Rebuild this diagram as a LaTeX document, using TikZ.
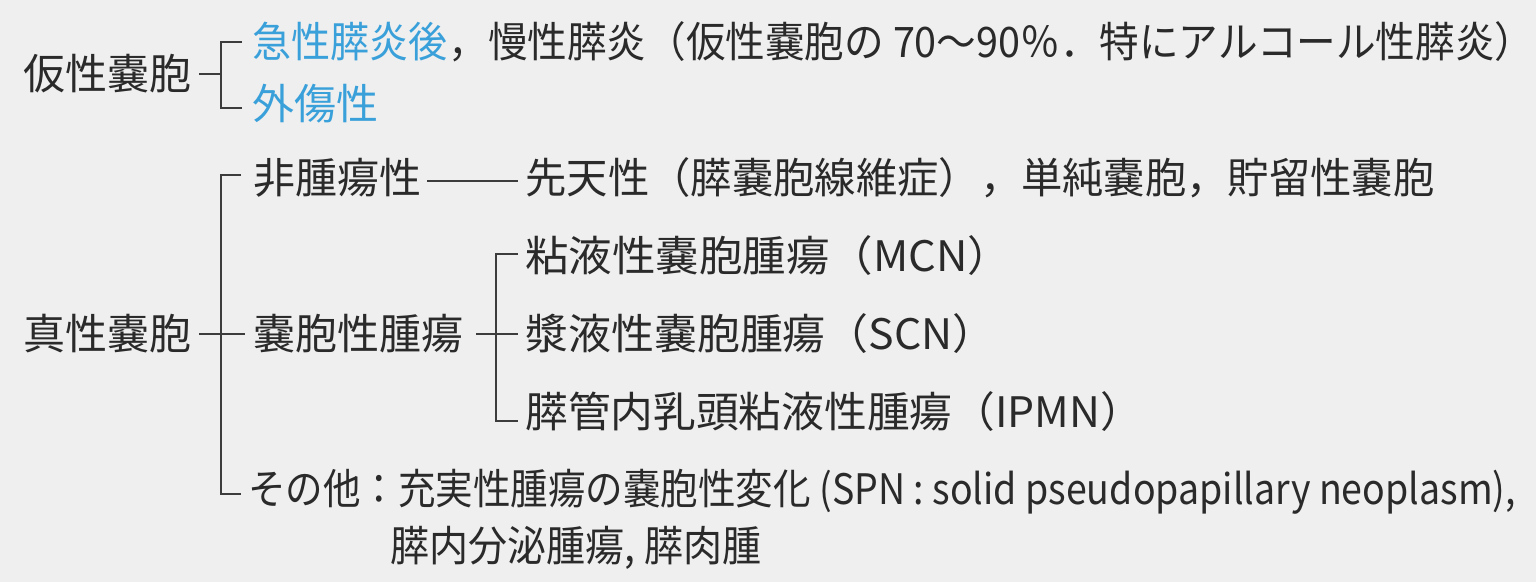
\documentclass[tikz,border=0pt]{standalone}
\usepackage{fontspec}
\usepackage{graphicx}
\setmainfont{Noto Sans CJK JP}
\definecolor{bg}{HTML}{EFEFEF}
\definecolor{ink}{HTML}{2A2A2A}
\definecolor{rule}{HTML}{3C3C3C}
\definecolor{accent}{HTML}{3AA0DA}
\newcommand{\squeeze}[2]{\scalebox{#1}[1]{#2}}
\begin{document}
\begin{tikzpicture}[x=0.5pt,y=-0.5pt,
  txt/.style={anchor=west,inner sep=0pt,text=ink,font=\fontsize{21pt}{25pt}\selectfont},
  hl/.style={text=accent},
  link/.style={draw=rule,line width=0.9pt}]
\fill[bg] (0,0) rectangle (1536,582);
\useasboundingbox (0,0) rectangle (1536,582);
% pseudocyst
\node[txt] (kasei) at (23,74) {仮性嚢胞};
\node[txt,hl] (acute) at (252,42) {\squeeze{0.93}{急性膵炎後}};
\node[txt] (chronic) at (acute.east) {\squeeze{0.943}{，慢性膵炎（仮性嚢胞の 70～90％．特にアルコール性膵炎）}};
\node[txt,hl] (trauma) at (252,104) {外傷性};
\coordinate (k0) at (199,74);
\coordinate (k1) at (221,74);
\coordinate (kt) at (221,42);
\coordinate (kb) at (221,108);
\coordinate (kte) at (242,42);
\coordinate (kbe) at (242,108);
\draw[link] (k0) -- (k1);
\draw[link] (kte) -- (kt) -- (kb) -- (kbe);
% true cyst
\node[txt] (shinsei) at (23,334) {真性嚢胞};
\node[txt] (hishuyo) at (253,178) {非腫瘍性};
\node[txt] (congen) at (525,178) {\squeeze{0.984}{先天性（膵嚢胞線維症），単純嚢胞，貯留性嚢胞}};
\node[txt] (cystic) at (253,334) {嚢胞性腫瘍};
\node[txt] (mcn) at (525,256) {\squeeze{1.035}{粘液性嚢胞腫瘍（MCN）}};
\node[txt] (scn) at (525,334) {\squeeze{1.022}{漿液性嚢胞腫瘍（SCN）}};
\node[txt] (ipmn) at (525,412) {\squeeze{1.017}{膵管内乳頭粘液性腫瘍（IPMN）}};
\node[txt] (other) at (248,492) {\squeeze{0.893}{その他：充実性腫瘍の嚢胞性変化 (SPN : solid pseudopapillary neoplasm),}};
\node[txt] (other2) at (390,548) {\squeeze{0.93}{膵内分泌腫瘍, 膵肉腫}};
\coordinate (h0) at (427,181);
\coordinate (h1) at (518,181);
\draw[link] (h0) -- (h1);
\coordinate (s0) at (199,334);
\coordinate (s1) at (245,334);
\coordinate (st) at (221,175);
\coordinate (sb) at (221,494);
\coordinate (ste) at (241,175);
\coordinate (sbe) at (241,494);
\draw[link] (s0) -- (s1);
\draw[link] (ste) -- (st) -- (sb) -- (sbe);
\coordinate (c0) at (476,334);
\coordinate (c1) at (518,334);
\coordinate (ct) at (496,254);
\coordinate (cb) at (496,421);
\coordinate (cte) at (518,254);
\coordinate (cbe) at (518,421);
\draw[link] (c0) -- (c1);
\draw[link] (cte) -- (ct) -- (cb) -- (cbe);
\end{tikzpicture}
\end{document}
